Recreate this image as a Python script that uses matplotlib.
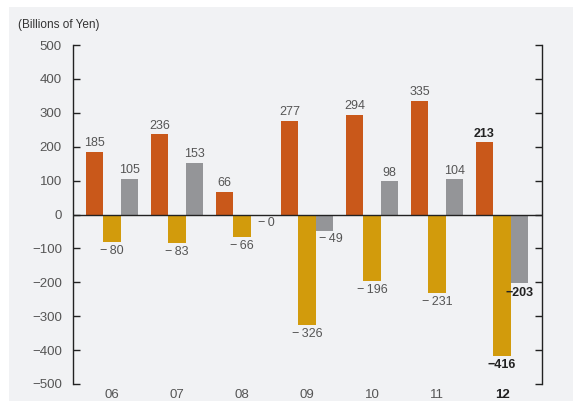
import numpy as np
import matplotlib.pyplot as plt
from matplotlib.patches import Rectangle

plt.rcParams['font.family'] = ['Liberation Sans', 'DejaVu Sans']

years = ["06", "07", "08", "09", "10", "11", "12"]
orange_vals = [185, 236, 66, 277, 294, 335, 213]
yellow_vals = [-80, -83, -66, -326, -196, -231, -416]
gray_vals = [105, 153, -0.0, -49, 98, 104, -203]
gray_labels = ["105", "153", "\u2212\u20090", "\u2212\u200949", "98", "104", "\u2212203"]

c_orange = "#c9581a"
c_yellow = "#d29b0c"
c_gray = "#949598"
txt = "#555555"

fig = plt.figure(figsize=(5.73, 4.01), dpi=100)
fig.patches.append(Rectangle((9 / 573, 0), 1, (401 - 7) / 401, transform=fig.transFigure,
                             facecolor="#f1f2f4", edgecolor="none", zorder=-10))
ax = fig.add_axes([73 / 573, 1 - 384 / 401, (542 - 73) / 573, (384 - 45) / 401])
ax.set_facecolor("none")

x = np.arange(len(years))
w = 0.27
ax.bar(x - w, orange_vals, w, color=c_orange)
ax.bar(x, yellow_vals, w, color=c_yellow)
ax.bar(x + w, gray_vals, w, color=c_gray)

ax.set_xlim(-0.6, 6.615)
ax.set_ylim(-500, 500)
ax.axhline(0, color="#222222", lw=1.0, zorder=5)

ax.set_yticks(np.arange(-500, 501, 100))
ax.set_yticklabels([("\u2212" + str(-v)) if v < 0 else str(v) for v in range(-500, 501, 100)],
                   color=txt, fontsize=9.5)
ax.tick_params(axis='y', direction='in', right=True, length=5, width=1, color="#222222", pad=8)
ax.set_xticks([])
for s in ['top', 'bottom']:
    ax.spines[s].set_visible(False)
for s in ['left', 'right']:
    ax.spines[s].set_color("#222222")
    ax.spines[s].set_linewidth(1)

for i, y in enumerate(years):
    bold = (i == len(years) - 1)
    ax.text(x[i], -531, y, ha='center', va='center', fontsize=9.5,
            color="#222222" if bold else txt, fontweight='bold' if bold else 'normal', clip_on=False)

    ov = orange_vals[i]
    ax.text(x[i] - w, ov + 8, str(ov), ha='center', va='bottom', fontsize=9,
            color="#222222" if bold else txt, fontweight='bold' if bold else 'normal')

    yv = yellow_vals[i]
    ylab = "\u2212" + str(-yv) if bold else "\u2212\u2009" + str(-yv)
    ax.text(x[i], yv - 10, ylab, ha='center', va='top', fontsize=9,
            color="#222222" if bold else txt, fontweight='bold' if bold else 'normal')

    gv = gray_vals[i]
    if gv > 0:
        ax.text(x[i] + w, gv + 8, gray_labels[i], ha='center', va='bottom', fontsize=9, color=txt)
    elif bold:
        ax.text(x[i] + w, gv - 10, gray_labels[i], ha='center', va='top', fontsize=9,
                color="#222222", fontweight='bold')
    else:
        ax.text(x[i] + w + 0.1, gv - 6, gray_labels[i], ha='center', va='top', fontsize=9, color=txt)

fig.text(18 / 573, 1 - 25 / 401, "(Billions of Yen)", ha='left', va='center', fontsize=8.5, color="#333333")

fig.savefig("out.png", dpi=100)
